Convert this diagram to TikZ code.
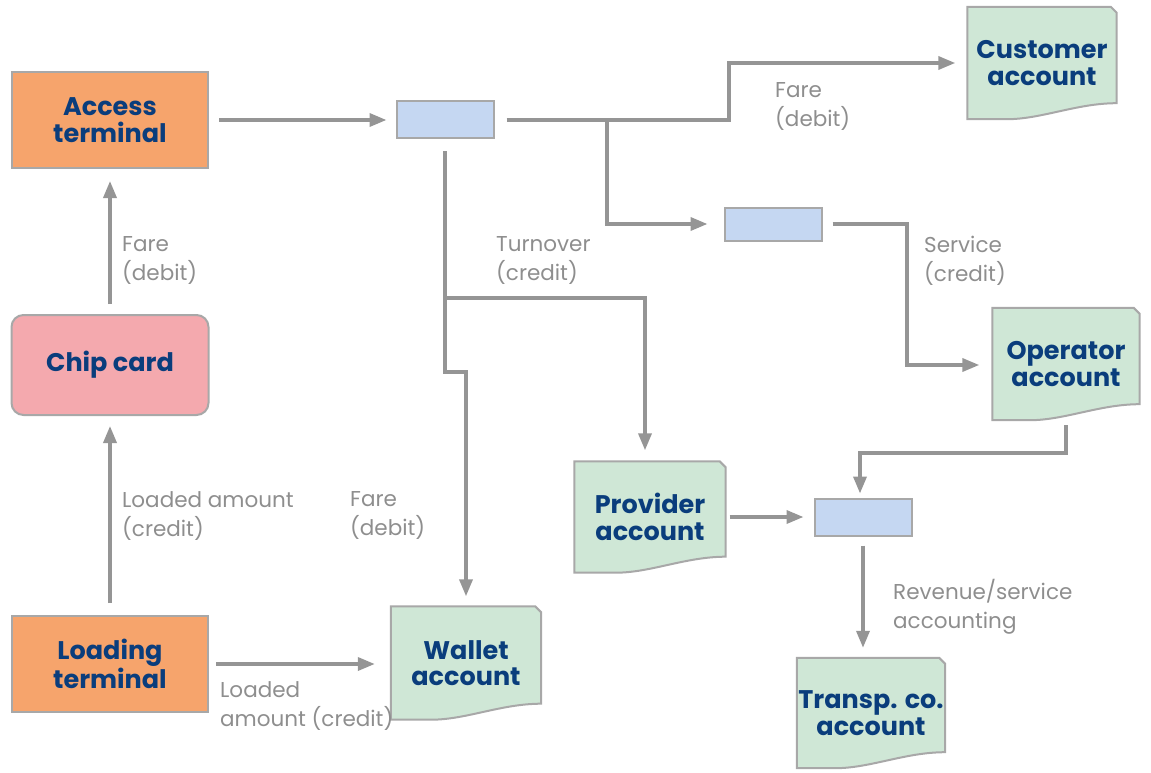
\documentclass[tikz,border=0pt]{standalone}
\usepackage{fontspec}
\setmainfont{Poppins}
\usetikzlibrary{arrows.meta,calc,backgrounds}
\definecolor{orangefill}{HTML}{F6A46C}
\definecolor{pinkfill}{HTML}{F4A9AE}
\definecolor{greenfill}{HTML}{CFE7D6}
\definecolor{bluefill}{HTML}{C5D7F2}
\definecolor{bordergray}{HTML}{A8A8A8}
\definecolor{navy}{HTML}{0A3D7C}
\definecolor{linegray}{HTML}{959595}
\definecolor{labelgray}{HTML}{8E8E8E}
\newcommand\mynodefont{\fontsize{25.5}{26.5}\selectfont\bfseries}
\newcommand\mylblfont{\fontsize{21.5}{29}\selectfont}
\newcommand\docshape[1]{%
  \draw[docstyle] (#1.north west) -- ([xshift=-6pt]#1.north east) -- ([yshift=-6pt]#1.north east)
    -- ($(#1.south east)+(0,-16)$) .. controls ($(#1.south east)+(-40,-16)$) and ($(#1.south east)+(-75,0)$) .. ($(#1.south east)+(-110,0)$)
    -- (#1.south west) -- cycle;}
\begin{document}
\begin{tikzpicture}[x=1pt,y=-1pt,
  conn/.style={draw=linegray, line width=3.5pt, -{Triangle[length=17pt,width=13pt]}},
  boxbase/.style={draw=bordergray, line width=2pt, text=navy, font=\mynodefont, align=center, inner sep=0pt},
  term/.style={boxbase, fill=orangefill, minimum width=196pt, minimum height=96pt},
  chipbox/.style={boxbase, fill=pinkfill, rounded corners=12pt, minimum width=197pt, minimum height=100pt},
  mini/.style={draw=bordergray, line width=2pt, fill=bluefill, minimum width=97pt, minimum height=37pt, inner sep=0pt},
  docnode/.style={text=navy, font=\mynodefont, align=center, inner sep=0pt, minimum width=150pt, minimum height=112pt},
  docstyle/.style={fill=greenfill, draw=bordergray, line width=2pt},
  lbl/.style={text=labelgray, font=\mylblfont, align=left, anchor=north west, inner sep=0pt},
]
\useasboundingbox (0,0) rectangle (1151,773);

% boxes
\node[term] (acc) at (110,120) {Access\\terminal};
\node[chipbox] (chip) at (110,365) {Chip card};
\node[term] (load) at (110,664) {Loading\\terminal};
\node[mini] (r1) at (445,120) {};
\node[mini, minimum height=33pt] (r2) at (773,224) {};
\node[mini] (r3) at (863,517) {};

% documents
\node[docnode, minimum width=149pt] (cust) at (1042,63) {Customer\\account};
\node[docnode, minimum width=147pt] (oper) at (1066,364) {Operator\\account};
\node[docnode, minimum width=151pt, minimum height=111pt] (prov) at (650,517) {Provider\\account};
\node[docnode, minimum height=113pt] (wall) at (466,663) {Wallet\\account};
\node[docnode, minimum width=148pt, minimum height=110pt] (trans) at (871,713) {Transp. co.\\account};
\begin{scope}[on background layer]
\docshape{cust}
\docshape{oper}
\docshape{prov}
\docshape{wall}
\docshape{trans}
\end{scope}

% bend points
\coordinate (bA) at (729,63);
\coordinate (br1) at (607,120);
\coordinate (br2) at (445,298);
\coordinate (bD) at (445,372);
\coordinate (bB) at (907,365);
\coordinate (bC) at (860,453);

% connectors
\draw[conn, shorten <=10pt, shorten >=9pt] (acc.east) -- (r1.west);
\draw[conn, shorten <=12pt, shorten >=12pt] (r1.east) -| (bA) -- (cust.west |- bA);
\draw[conn, shorten >=16pt] (br1) |- (r2.west);
\draw[conn, shorten <=12pt, shorten >=10pt] (r1.south) -- (bD) -| (wall.north);
\draw[conn, shorten >=11pt] (br2) -| ([xshift=-5pt]prov.north);
\draw[conn, shorten <=10pt, shorten >=13pt] (r2.east) -| (bB) -- (oper.west |- bB);
\draw[conn, shorten <=5pt, shorten >=4pt] (oper.south) |- (bC) -- (bC |- r3.north);
\draw[conn, shorten <=4pt, shorten >=10pt] (prov.east) -- (r3.west);
\draw[conn, shorten <=9pt, shorten >=10pt] (r3.south) -- (r3.south |- trans.north);
\draw[conn, shorten <=7pt, shorten >=16pt] (load.east) -- (load.east -| wall.west);
\draw[conn, shorten <=12pt, shorten >=10pt] (load.north) -- (chip.south);
\draw[conn, shorten <=10pt, shorten >=12pt] (chip.north) -- (acc.south);

% labels
\node[lbl] (l1) at (122,236) {Fare\\(debit)};
\node[lbl] (l2) at (122,491) {Loaded amount\\(credit)};
\node[lbl] (l3) at (350,491) {Fare\\(debit)};
\node[lbl] (l4) at (220,681) {Loaded\\amount (credit)};
\node[lbl] (l5) at (496,236) {Turnover\\(credit)};
\node[lbl] (l6) at (775,82) {Fare\\(debit)};
\node[lbl] (l7) at (924,236) {Service\\(credit)};
\node[lbl] (l8) at (893,579) {Revenue/service\\accounting};
\end{tikzpicture}
\end{document}
